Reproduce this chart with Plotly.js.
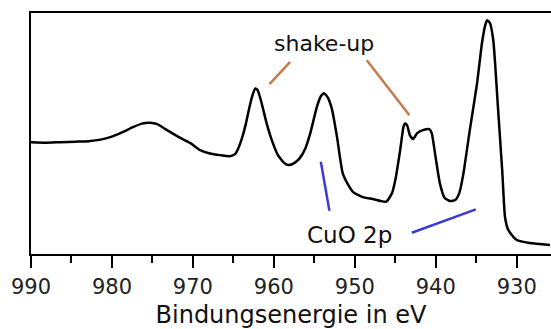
<!DOCTYPE html>
<html>
<head>
<meta charset="utf-8">
<script src="https://cdn.plot.ly/plotly-3.0.1.min.js"></script>
<style>
  html, body { margin: 0; padding: 0; background: #fff; }
  #chart { width: 551px; height: 329px; }
</style>
</head>
<body>
<div id="chart"></div>
<script>
// Binding energy (eV) and intensity (arbitrary units)
const bindingEnergy = [
  990.0, 988.2, 986.4, 984.5, 982.9, 981.4, 980.1, 978.7, 977.4, 976.3,
  975.3, 974.4, 973.4, 971.8, 970.3, 969.1, 967.9, 966.6, 965.4, 964.8,
  964.4, 963.95, 963.5, 963.1, 962.7, 962.3, 962.0, 961.5, 960.9, 960.3,
  959.5, 958.7, 958.2, 957.5, 956.8, 956.1, 955.5, 954.7, 954.2, 953.8,
  953.3, 952.8, 952.2, 951.5, 950.8, 950.2, 949.0, 947.8, 946.8, 946.1,
  945.4, 945.0, 944.4, 944.0, 943.8, 943.55, 943.2, 942.8, 942.3, 941.6,
  940.8, 940.5, 940.1, 939.5, 938.9, 938.2, 937.6, 937.1, 936.6, 935.8,
  934.9, 934.3, 933.9, 933.65, 933.3, 932.9, 932.7, 932.3, 931.8, 931.45,
  931.1, 930.8, 930.0, 928.4, 925.9
];
const intensity = [
  112, 111.5, 112, 112.5, 113, 114.5, 117.3, 122, 127, 130.5,
  131.3, 130, 125, 117.3, 111, 104, 100.7, 99, 98, 100,
  105.7, 115.7, 129, 144, 157.3, 165.7, 164, 150.7, 131, 115,
  99, 91, 89, 91, 96, 106, 121, 147, 158, 161,
  156, 144, 117, 81, 69, 62, 57, 55, 53, 52.5,
  61, 74, 104, 127, 130.7, 129, 119, 115, 121, 124,
  125, 121, 101, 71, 56, 53, 54, 61, 80, 124,
  171, 211, 229, 234, 231, 214, 194, 144, 84, 37,
  25, 21, 14, 11, 9
];
const xTickValues = [990, 980, 970, 960, 950, 940, 930];
const xTickLabels = ["990", "980", "970", "960", "950", "940", "930"];
const xAxisTitle = "Bindungsenergie in eV";
const shakeUpLabel = "shake-up";
const cuoLabel = "CuO 2p";

const brown = "#c27b4e";
const blue = "#3b3bd6";

const trace = {
  x: bindingEnergy,
  y: intensity,
  type: "scatter",
  mode: "lines",
  line: { color: "#000", width: 2.5, shape: "spline", smoothing: 0.5 },
  hoverinfo: "skip"
};

const layout = {
  width: 551,
  height: 329,
  margin: { l: 31, r: 0, t: 13, b: 75, pad: 0 },
  paper_bgcolor: "#fff",
  plot_bgcolor: "#fff",
  showlegend: false,
  font: { family: "DejaVu Sans", color: "#111" },
  xaxis: {
    range: [990, 925.77],
    autorange: false,
    tickvals: xTickValues,
    ticktext: xTickLabels,
    ticks: "outside",
    ticklen: 12,
    tickwidth: 2,
    tickcolor: "#000",
    minor: { dtick: 5, tick0: 990, ticks: "outside", ticklen: 7, tickwidth: 2, tickcolor: "#000", showgrid: false },
    tickfont: { family: "DejaVu Sans", size: 21, color: "#222" },
    ticklabelstandoff: 1,
    showline: true,
    linewidth: 2,
    linecolor: "#000",
    mirror: true,
    showgrid: false,
    zeroline: false,
    title: { text: xAxisTitle, font: { family: "DejaVu Sans", size: 24, color: "#111" }, standoff: 12 }
  },
  yaxis: {
    range: [0, 241.3],
    autorange: false,
    showticklabels: false,
    ticks: "",
    showline: true,
    linewidth: 2,
    linecolor: "#000",
    mirror: false,
    showgrid: false,
    zeroline: false
  },
  shapes: [
    { type: "line", xref: "x", yref: "y", x0: 960.54, y0: 170, x1: 957.99, y1: 192.3, line: { color: brown, width: 2.5 } },
    { type: "line", xref: "x", yref: "y", x0: 948.52, y0: 194, x1: 943.26, y1: 139, line: { color: brown, width: 2.5 } },
    { type: "line", xref: "x", yref: "y", x0: 954.20, y0: 92.3, x1: 953.14, y1: 43.3, line: { color: blue, width: 2.5 } },
    { type: "line", xref: "x", yref: "y", x0: 942.96, y0: 21.3, x1: 935.06, y1: 44.7, line: { color: blue, width: 2.5 } }
  ],
  annotations: [
    { x: 953.8, y: 211, xref: "x", yref: "y", text: shakeUpLabel, showarrow: false,
      font: { family: "DejaVu Sans", size: 22, color: "#111" }, xanchor: "center", yanchor: "middle" },
    { x: 950.64, y: 19, xref: "x", yref: "y", text: cuoLabel, showarrow: false,
      font: { family: "DejaVu Sans", size: 23, color: "#111" }, xanchor: "center", yanchor: "middle" }
  ]
};

Plotly.newPlot("chart", [trace], layout, { staticPlot: true, displayModeBar: false });
</script>
</body>
</html>
